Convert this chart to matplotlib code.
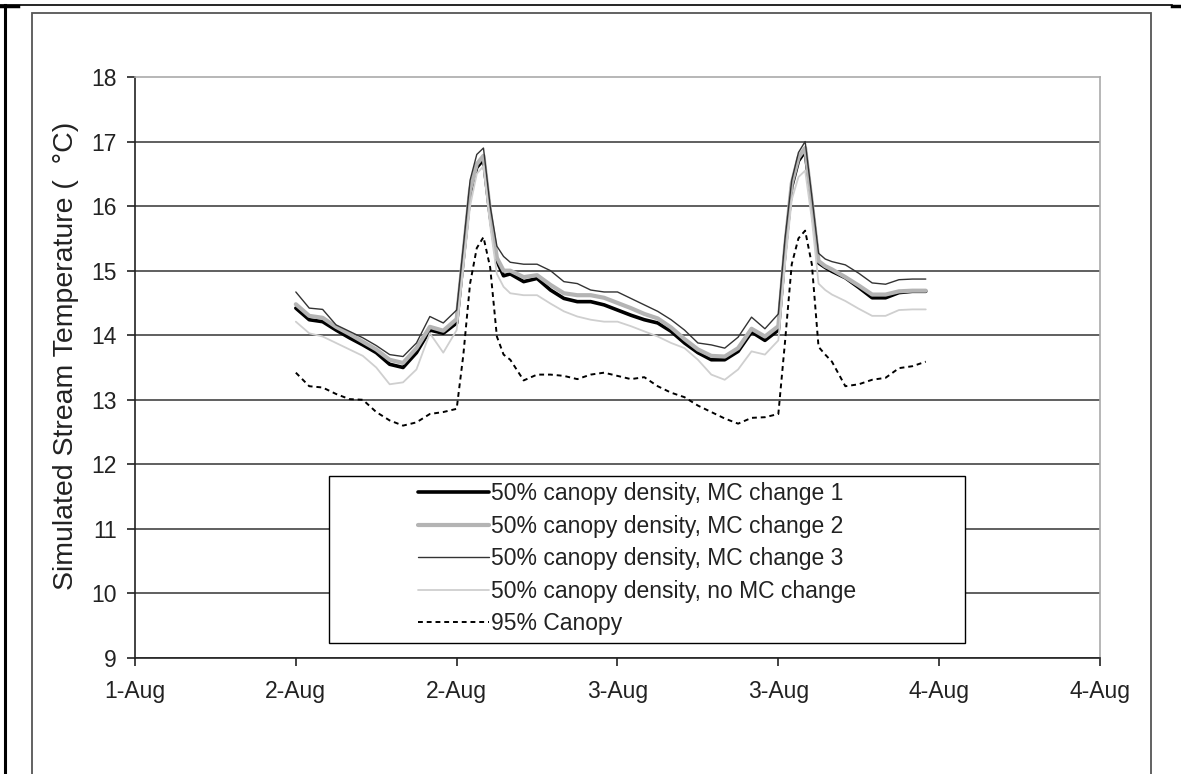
import numpy as np
import pandas as pd
import matplotlib
matplotlib.use("Agg")
import matplotlib.pyplot as plt
import matplotlib.dates as mdates
from matplotlib.lines import Line2D
from matplotlib.patches import Rectangle

plt.rcParams['font.family'] = ['Liberation Sans', 'DejaVu Sans']

# hours after 2-Aug 00:00 (half-hourly around the two afternoon peaks)
hours = [0, 1, 2, 3, 4, 5, 6, 7, 8, 9, 10, 11, 12,
         12.5, 13, 13.5, 14, 14.5, 15, 15.5, 16,
         17, 18, 19, 20, 21, 22, 23, 24, 25, 26, 27, 28, 29, 30, 31, 32, 33, 34, 35, 36,
         36.5, 37, 37.5, 38, 38.5, 39, 39.5, 40,
         41, 42, 43, 44, 45, 46, 47]

mc1 = [14.42, 14.24, 14.21, 14.08, 13.96, 13.85, 13.73, 13.55, 13.50, 13.73, 14.08, 14.03, 14.19,
       15.20, 16.20, 16.60, 16.72, 15.85, 15.15, 14.92, 14.95,
       14.83, 14.88, 14.70, 14.57, 14.52, 14.52, 14.47, 14.39, 14.31, 14.24, 14.19, 14.06, 13.88,
       13.73, 13.62, 13.62, 13.75, 14.05, 13.92, 14.08,
       15.30, 16.30, 16.70, 16.85, 16.00, 15.12, 15.05, 14.99,
       14.89, 14.74, 14.58, 14.58, 14.66, 14.68, 14.68]
mc2 = [14.48, 14.30, 14.27, 14.13, 14.02, 13.90, 13.78, 13.62, 13.57, 13.80, 14.13, 14.07, 14.25,
       15.25, 16.25, 16.65, 16.78, 15.90, 15.20, 15.00, 15.00,
       14.90, 14.93, 14.78, 14.65, 14.62, 14.62, 14.58, 14.50, 14.42, 14.33, 14.26, 14.12, 13.94,
       13.78, 13.68, 13.67, 13.80, 14.10, 13.98, 14.14,
       15.35, 16.35, 16.75, 16.90, 16.05, 15.15, 15.07, 15.02,
       14.90, 14.77, 14.63, 14.63, 14.68, 14.69, 14.69]
mc3 = [14.67, 14.42, 14.40, 14.16, 14.06, 13.96, 13.84, 13.70, 13.67, 13.88, 14.29, 14.19, 14.39,
       15.38, 16.40, 16.80, 16.90, 16.00, 15.38, 15.22, 15.13,
       15.10, 15.10, 15.00, 14.83, 14.80, 14.70, 14.67, 14.67, 14.57, 14.47, 14.37, 14.24, 14.08,
       13.88, 13.85, 13.80, 13.97, 14.28, 14.10, 14.33,
       15.50, 16.40, 16.83, 17.00, 16.15, 15.27, 15.18, 15.14,
       15.09, 14.96, 14.81, 14.79, 14.86, 14.87, 14.87]
no_mc = [14.21, 14.03, 13.98, 13.88, 13.78, 13.68, 13.50, 13.24, 13.27, 13.47, 14.03, 13.73, 14.08,
         15.05, 16.00, 16.50, 16.62, 15.70, 14.95, 14.75, 14.65,
         14.62, 14.62, 14.49, 14.37, 14.29, 14.24, 14.21, 14.21, 14.14, 14.06, 13.98, 13.88, 13.80,
         13.62, 13.39, 13.31, 13.47, 13.75, 13.70, 13.92,
         15.10, 16.10, 16.45, 16.55, 15.80, 14.80, 14.70, 14.63,
         14.53, 14.41, 14.30, 14.30, 14.39, 14.40, 14.40]
canopy95 = [13.42, 13.21, 13.19, 13.09, 13.01, 13.00, 12.81, 12.68, 12.60, 12.65, 12.78, 12.81, 12.86,
            13.70, 14.80, 15.35, 15.52, 15.05, 13.98, 13.70, 13.62,
            13.30, 13.39, 13.39, 13.37, 13.32, 13.39, 13.42, 13.37, 13.32, 13.35, 13.21, 13.11, 13.04,
            12.91, 12.81, 12.71, 12.63, 12.72, 12.73, 12.78,
            13.90, 15.10, 15.50, 15.62, 15.10, 13.82, 13.70, 13.59,
            13.21, 13.24, 13.31, 13.34, 13.49, 13.52, 13.59]

labels = ['50% canopy density, MC change 1', '50% canopy density, MC change 2',
          '50% canopy density, MC change 3', '50% canopy density, no MC change',
          '95% Canopy']

times = pd.Timestamp('2008-08-02 00:00') + pd.to_timedelta(hours, unit='h')

fig = plt.figure(figsize=(11.81, 7.74), dpi=100)
ax = fig.add_axes([135/1181, 1 - 658/774, 965/1181, 581/774])

kw = dict(solid_joinstyle='round', solid_capstyle='round', zorder=3)
ax.plot(times, mc1, color='black', lw=2.6, label=labels[0], **kw)
ax.plot(times, mc2, color='#b4b4b4', lw=3.0, label=labels[1], **kw)
ax.plot(times, mc3, color='#333333', lw=1.0, label=labels[2], **kw)
ax.plot(times, no_mc, color='#cfcfcf', lw=1.3, label=labels[3], **kw)
ax.plot(times, canopy95, color='black', lw=1.4, dashes=(2.5, 2.0), label=labels[4], zorder=3)

ax.set_xlim(pd.Timestamp('2008-08-01 12:00'), pd.Timestamp('2008-08-04 12:00'))
ax.set_ylim(9, 18)
ax.xaxis.set_major_locator(mdates.HourLocator(byhour=[0, 12]))
ax.xaxis.set_major_formatter(mdates.DateFormatter('%-d-%b'))
ax.set_yticks(range(9, 19))

ax.yaxis.grid(True, color='#444444', lw=1.2)
ax.set_axisbelow(True)
ax.get_ygridlines()[-1].set_visible(False)

for s in ['top', 'right']:
    ax.spines[s].set_color('#aaaaaa')
    ax.spines[s].set_linewidth(1.2)
for s in ['left', 'bottom']:
    ax.spines[s].set_color('#222222')
    ax.spines[s].set_linewidth(1.2)

ax.tick_params(axis='both', direction='out', length=6, width=1.2, color='#222222',
               labelsize=16.5, labelcolor='#222222')
ax.tick_params(axis='y', pad=7)
ax.tick_params(axis='x', pad=10)

ax.set_ylabel('Simulated Stream Temperature (  °C)', fontsize=20.5, color='#222222')
ax.yaxis.set_label_coords(-0.058, 0.52)

# legend box
ax.add_patch(Rectangle((0.201, 0.026), 0.659, 0.287, transform=ax.transAxes,
                       facecolor='white', edgecolor='black', lw=1.0, zorder=4))
leg = ax.legend(loc='upper left', bbox_to_anchor=(0.293, 0.303), frameon=False,
                borderpad=0, borderaxespad=0, fontsize=16.5, handlelength=3.1,
                handletextpad=0.1, labelspacing=0.42)
leg.set_zorder(5)
for t in leg.get_texts():
    t.set_color('#222222')

# page frame
fig.add_artist(Line2D([0, 1172/1181], [1 - 5/774] * 2, color='black', lw=1.2))
fig.add_artist(Line2D([0, 18/1181], [1 - 6/774] * 2, color='black', lw=2.5))
fig.add_artist(Line2D([1172/1181, 1], [1 - 6/774] * 2, color='black', lw=2.5))
fig.add_artist(Line2D([5/1181] * 2, [0, 1 - 5/774], color='black', lw=2.2))
fig.add_artist(Rectangle((32/1181, -0.01), 1119/1181, 1 - 13/774 + 0.01,
                         transform=fig.transFigure, fill=False, edgecolor='#555555', lw=1.3))

fig.savefig('out.png', dpi=100)
